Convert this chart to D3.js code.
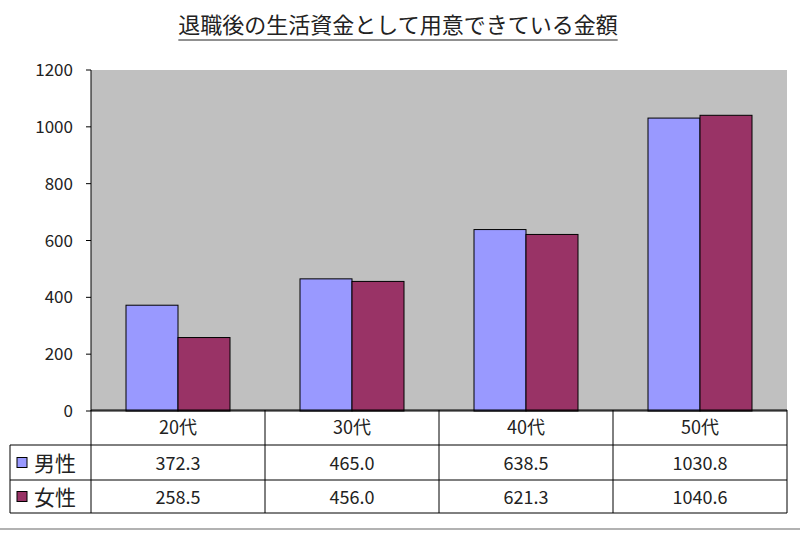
<!DOCTYPE html><html><head><meta charset="utf-8"><script src="https://cdn.jsdelivr.net/npm/d3@7"></script>
<style>body{margin:0;background:#fff}text{font-family:"Noto Sans CJK JP",sans-serif}</style></head><body><svg width="800" height="533"></svg>
<script>
const title="退職後の生活資金として用意できている金額";
const categories=["20代","30代","40代","50代"];
const seriesNames=["男性","女性"];
const male=[372.3,465.0,638.5,1030.8];
const female=[258.5,456.0,621.3,1040.6];
const yTicks=[0,200,400,600,800,1000,1200];
const colors=["#9999ff","#993366"];
const svg=d3.select("svg");
const L=91,R=787,T=70,B=411;
const x=d3.scaleBand().domain(categories).range([L,R]);
const y=d3.scaleLinear().domain([0,1200]).range([B,T]);
svg.append("rect").attr("x",L).attr("y",T).attr("width",R-L).attr("height",B-T).attr("fill","#c0c0c0");
svg.append("line").attr("x1",L).attr("x2",L).attr("y1",T).attr("y2",B).attr("stroke","#000");
yTicks.forEach(t=>{svg.append("line").attr("x1",L-5).attr("x2",L).attr("y1",y(t)).attr("y2",y(t)).attr("stroke","#000");
svg.append("text").attr("x",73).attr("y",y(t)+6).attr("text-anchor","end").attr("font-size",17).attr("fill","#222").text(t);});
const bw=x.bandwidth(),barW=52,off=(bw-2*barW)/2;
[male,female].forEach((s,i)=>{svg.selectAll(null).data(s).enter().append("rect")
.attr("x",(d,j)=>x(categories[j])+off+i*barW).attr("y",d=>y(d)).attr("width",barW).attr("height",d=>B-y(d))
.attr("fill",colors[i]).attr("stroke","#000").attr("stroke-width",1);});
svg.append("line").attr("x1",L).attr("x2",R).attr("y1",B).attr("y2",B).attr("stroke","#000");
const rows=[410,445,480,513];
svg.append("line").attr("x1",L).attr("x2",R).attr("y1",rows[0]).attr("y2",rows[0]).attr("stroke","#000");
[1,2,3].forEach(k=>svg.append("line").attr("x1",10).attr("x2",R).attr("y1",rows[k]).attr("y2",rows[k]).attr("stroke","#000"));
svg.append("line").attr("x1",10).attr("x2",10).attr("y1",rows[1]).attr("y2",rows[3]).attr("stroke","#000");
categories.forEach(c=>svg.append("line").attr("x1",x(c)+bw).attr("x2",x(c)+bw).attr("y1",rows[0]).attr("y2",rows[3]).attr("stroke","#000"));
svg.append("line").attr("x1",L).attr("x2",L).attr("y1",rows[0]).attr("y2",rows[3]).attr("stroke","#000");
categories.forEach(c=>svg.append("text").attr("x",x(c)+bw/2).attr("y",434).attr("text-anchor","middle").attr("font-size",18).attr("fill","#222").text(c));
[male,female].forEach((s,i)=>{const cy=(rows[i+1]+rows[i+2])/2;
svg.append("rect").attr("x",17).attr("y",cy-5).attr("width",10).attr("height",10).attr("fill",colors[i]).attr("stroke","#000");
svg.append("text").attr("x",34).attr("y",cy+8).attr("font-size",21).attr("fill","#222").text(seriesNames[i]);
s.forEach((d,j)=>svg.append("text").attr("x",x(categories[j])+bw/2).attr("y",cy+7).attr("text-anchor","middle").attr("font-size",18).attr("fill","#222").text(d.toFixed(1)));});
svg.append("line").attr("x1",0).attr("x2",800).attr("y1",529).attr("y2",529).attr("stroke","#999").attr("stroke-width",1.5);
const tt=svg.append("text").attr("x",398).attr("y",33).attr("text-anchor","middle").attr("font-size",22).attr("fill","#222").text(title);
const bb=tt.node().getBBox();
svg.append("line").attr("x1",bb.x).attr("x2",bb.x+bb.width).attr("y1",40).attr("y2",40).attr("stroke","#222");
</script></body></html>
